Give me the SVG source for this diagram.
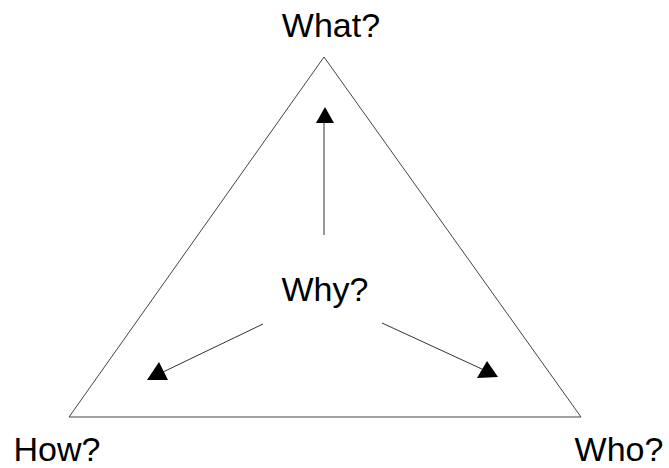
<svg xmlns="http://www.w3.org/2000/svg" width="669" height="468" viewBox="0 0 669 468">
<style>
.lbl{font-family:"Liberation Sans",Arial,sans-serif;font-size:34px;fill:#000;text-anchor:middle}
.edge{stroke:#333;stroke-width:1;fill:none}
.head{fill:#000;stroke:none}
</style>
<rect width="669" height="468" fill="#fff"/>
<g id="triangle"><polygon points="324,57 69,417 581,417" fill="none" stroke="#444" stroke-width="1"/></g>
<g id="what"><text class="lbl" x="331" y="37">What?</text></g>
<g id="why"><text class="lbl" x="325" y="301">Why?</text></g>
<g id="how"><text class="lbl" x="57" y="461">How?</text></g>
<g id="who"><text class="lbl" x="619" y="461">Who?</text></g>
<g id="connectors">
<line class="edge" x1="324" y1="235" x2="324" y2="122"/>
<polygon class="head" points="325,107 316,123 334,123"/>
<line class="edge" x1="263" y1="324" x2="163" y2="372"/>
<polygon class="head" points="147,380 159,362 168,380"/>
<line class="edge" x1="382" y1="323" x2="484" y2="370"/>
<polygon class="head" points="477,378 487,361 498,377"/>
</g>
</svg>
